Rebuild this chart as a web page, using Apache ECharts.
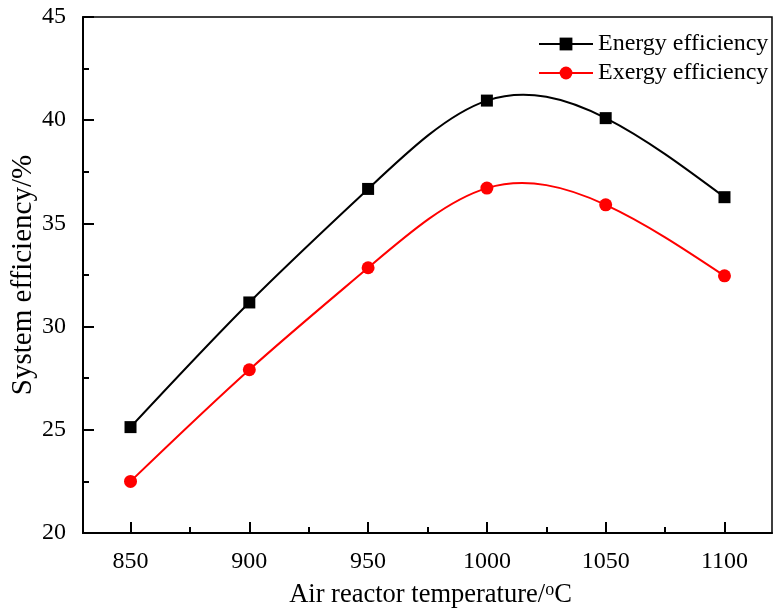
<!DOCTYPE html>
<html>
<head>
<meta charset="utf-8">
<script src="https://cdn.jsdelivr.net/npm/echarts@6/dist/echarts.min.js"></script>
<style>html,body{margin:0;padding:0;background:#fff;}#c{width:774px;height:610px;}</style>
</head>
<body>
<div id="c"></div>
<script>
const temperatures = [850, 900, 950, 1000, 1050, 1100];
const energyEfficiency = [25.13, 31.17, 36.67, 40.95, 40.10, 36.27];
const exergyEfficiency = [22.50, 27.91, 32.85, 36.71, 35.90, 32.46];
const xMajorTicks = [850, 900, 950, 1000, 1050, 1100];
const xMinorTicks = [875, 925, 975, 1025, 1075];
const seriesNames = ['Energy efficiency', 'Exergy efficiency'];

const FONT = 'Liberation Serif';
const chart = echarts.init(document.getElementById('c'), null, {renderer: 'canvas'});
const pair = (xs, ys) => xs.map((x, i) => [x, ys[i]]);

// Natural cubic spline slopes at the nodes (used only to style the connecting curve)
function splineSlopes(xs, ys) {
  const n = xs.length, h = [], M = new Array(n).fill(0);
  for (let i = 0; i < n - 1; i++) h.push(xs[i + 1] - xs[i]);
  const a = [], b = [], c = [], r = [];
  for (let i = 1; i < n - 1; i++) {
    a.push(h[i - 1]); b.push(2 * (h[i - 1] + h[i])); c.push(h[i]);
    r.push(6 * ((ys[i + 1] - ys[i]) / h[i] - (ys[i] - ys[i - 1]) / h[i - 1]));
  }
  const m = r.length, cp = [], dp = [];
  for (let i = 0; i < m; i++) {
    const den = b[i] - (i > 0 ? a[i] * cp[i - 1] : 0);
    cp[i] = c[i] / den;
    dp[i] = (r[i] - (i > 0 ? a[i] * dp[i - 1] : 0)) / den;
  }
  for (let i = m - 1; i >= 0; i--) M[i + 1] = dp[i] - (i < m - 1 ? cp[i] * M[i + 2] : 0);
  const d = [];
  for (let i = 0; i < n - 1; i++) d.push((ys[i + 1] - ys[i]) / h[i] - h[i] * (2 * M[i] + M[i + 1]) / 6);
  const k = n - 2;
  d.push((ys[k + 1] - ys[k]) / h[k] + h[k] * (M[k] + 2 * M[k + 1]) / 6);
  return d;
}

function splineSeries(xs, ys, color) {
  const d = splineSlopes(xs, ys);
  return {
    type: 'custom', z: 1, silent: true,
    data: pair(xs, ys),
    encode: {x: 0, y: 1},
    renderItem: function (params, api) {
      const i = params.dataIndex;
      if (i >= xs.length - 1) return null;
      const h = xs[i + 1] - xs[i];
      const p0 = api.coord([xs[i], ys[i]]);
      const p1 = api.coord([xs[i + 1], ys[i + 1]]);
      const c0 = api.coord([xs[i] + h / 3, ys[i] + d[i] * h / 3]);
      const c1 = api.coord([xs[i + 1] - h / 3, ys[i + 1] - d[i + 1] * h / 3]);
      return {
        type: 'bezierCurve',
        shape: {x1: p0[0], y1: p0[1], x2: p1[0], y2: p1[1], cpx1: c0[0], cpy1: c0[1], cpx2: c1[0], cpy2: c1[1]},
        style: {stroke: color, lineWidth: 2, fill: null}
      };
    }
  };
}

chart.setOption({
  animation: false,
  backgroundColor: '#fff',
  grid: {left: 83, right: 2, top: 17, bottom: 77, outerBoundsMode: 'none', containLabel: false,
    show: true, borderColor: '#000', borderWidth: 1.5, backgroundColor: 'transparent'},
  legend: {
    orient: 'vertical', left: 533, top: 27,
    itemWidth: 54, itemHeight: 16, itemGap: 5,
    textStyle: {fontFamily: FONT, fontSize: 24, color: '#000', lineHeight: 24},
    lineStyle: {opacity: 1, width: 2},
    data: seriesNames
  },
  xAxis: [{
    type: 'value', min: 830, max: 1120,
    name: 'Air reactor temperature/{sup|o}C', nameLocation: 'middle', nameGap: 48, nameMoveOverlap: false,
    nameTextStyle: {fontFamily: FONT, fontSize: 26.5, color: '#000', padding: [0, 0, 0, 6],
      rich: {sup: {fontFamily: FONT, fontSize: 18, color: '#000', verticalAlign: 'top', padding: [0, 0, 10, 0]}}},
    axisLine: {show: true, lineStyle: {color: '#000', width: 2}},
    axisTick: {show: true, inside: true, length: 11, lineStyle: {color: '#000', width: 2}, customValues: xMajorTicks},
    axisLabel: {fontFamily: FONT, fontSize: 24, color: '#000', margin: 17, customValues: xMajorTicks,
      formatter: v => String(v)},
    splitLine: {show: false}
  }, {
    type: 'value', min: 830, max: 1120, position: 'bottom',
    axisLine: {show: false},
    axisTick: {show: true, inside: true, length: 6, lineStyle: {color: '#000', width: 2}, customValues: xMinorTicks},
    axisLabel: {show: false},
    splitLine: {show: false}
  }],
  yAxis: {
    type: 'value', min: 20, max: 45, interval: 5,
    name: 'System efficiency/%', nameLocation: 'middle', nameGap: 45, nameRotate: 90, nameMoveOverlap: false,
    nameTextStyle: {fontFamily: FONT, fontSize: 29, color: '#000'},
    axisLine: {show: true, lineStyle: {color: '#000', width: 2}},
    axisTick: {show: true, inside: true, length: 11, lineStyle: {color: '#000', width: 2}},
    minorTick: {show: true, splitNumber: 2, length: 6, lineStyle: {color: '#000', width: 2}},
    axisLabel: {fontFamily: FONT, fontSize: 24, color: '#000', margin: 17},
    splitLine: {show: false}
  },
  series: [
    splineSeries(temperatures, energyEfficiency, '#000000'),
    splineSeries(temperatures, exergyEfficiency, '#ff0000'),
    {
      name: seriesNames[0], type: 'line', z: 3,
      data: pair(temperatures, energyEfficiency),
      symbol: 'rect', symbolSize: 12,
      lineStyle: {color: '#000', width: 2, opacity: 0},
      itemStyle: {color: '#000'}
    }, {
      name: seriesNames[1], type: 'line', z: 3,
      data: pair(temperatures, exergyEfficiency),
      symbol: 'circle', symbolSize: 13,
      lineStyle: {color: '#ff0000', width: 2, opacity: 0},
      itemStyle: {color: '#ff0000'}
    }
  ]
});
</script>
</body>
</html>
